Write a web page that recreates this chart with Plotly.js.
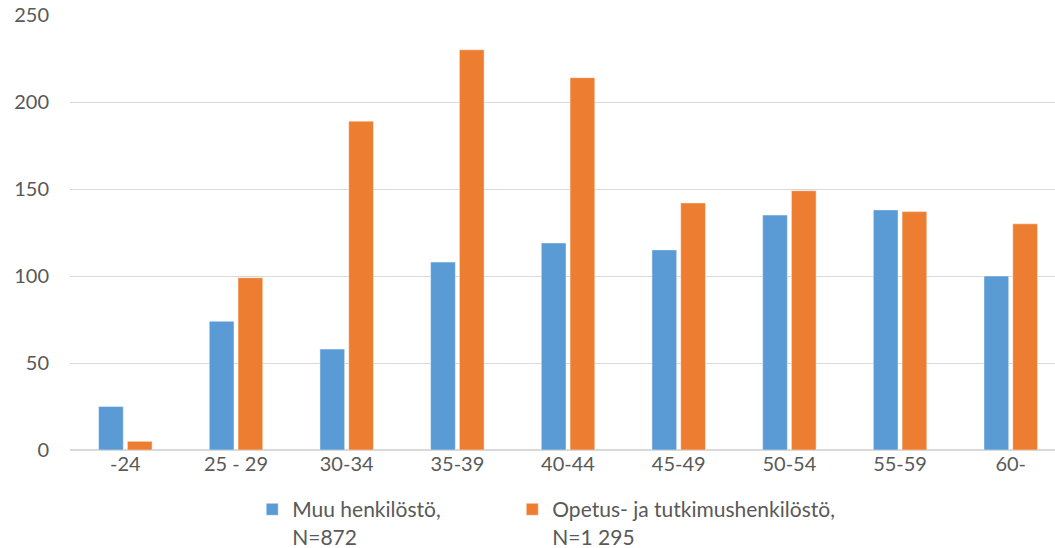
<!DOCTYPE html>
<html><head><meta charset="utf-8">
<script src="https://cdn.plot.ly/plotly-3.0.1.min.js"></script>
<style>html,body{margin:0;padding:0;background:#fff}#c{width:1055px;height:548px}</style>
</head><body><div id="c"></div>
<script>
const categories = ["-24","25 - 29","30-34","35-39","40-44","45-49","50-54","55-59","60-"];
const muu = [25, 74, 58, 108, 119, 115, 135, 138, 100];
const opetus = [5, 99, 189, 230, 214, 142, 149, 137, 130];
const seriesNames = ["Muu henkilöstö,<br>N=872", "Opetus- ja tutkimushenkilöstö,<br>N=1 295"];
const tickFont = {family: "Lato, 'Open Sans', sans-serif", size: 20, color: "#595959"};
const legFont = {family: "Lato, 'Open Sans', sans-serif", size: 21, color: "#595959"};
const traces = [
  {type:"bar", x: categories, y: muu, name: seriesNames[0], legend:"legend", marker:{color:"#5B9BD5", line:{color:"rgba(255,255,255,0.45)", width:1}}},
  {type:"bar", x: categories, y: opetus, name: seriesNames[1], legend:"legend2", marker:{color:"#ED7D31", line:{color:"rgba(255,255,255,0.45)", width:1}}}
];
const legendBase = {orientation:"v", xanchor:"left", y:-0.09, yanchor:"top", valign:"top", font:legFont, itemwidth:30, bgcolor:"rgba(0,0,0,0)"};
const layout = {
  width:1055, height:548,
  margin:{l:70, r:0, t:15, b:98, autoexpand:false},
  font: tickFont,
  barmode:"group", bargap:0.48, bargroupgap:0.14,
  plot_bgcolor:"#fff", paper_bgcolor:"#fff",
  xaxis:{type:"category", range:[-0.5, 8.4], showgrid:false, showline:false, ticks:"", tickfont:tickFont, automargin:false},
  yaxis:{range:[0,250], dtick:50, showgrid:true, gridcolor:"#D9D9D9", gridwidth:1, zeroline:true, zerolinecolor:"#D9D9D9", zerolinewidth:1.5, showline:false, ticks:"", ticklabelstandoff:20, tickfont:tickFont, automargin:false},
  showlegend:true,
  legend: Object.assign({}, legendBase, {x:0.185}),
  legend2: Object.assign({}, legendBase, {x:0.449}),
};
Plotly.newPlot("c", traces, layout, {displayModeBar:false, staticPlot:true});
</script></body></html>
